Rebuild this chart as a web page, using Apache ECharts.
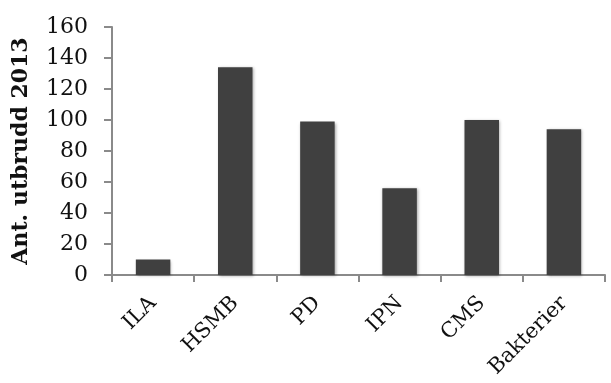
<!DOCTYPE html>
<html>
<head>
<meta charset="utf-8">
<script src="https://cdn.jsdelivr.net/npm/echarts@6/dist/echarts.min.js"></script>
<style>
  html, body { margin: 0; padding: 0; background: #fff; }
  #chart { width: 611px; height: 383px; }
</style>
</head>
<body>
<div id="chart"></div>
<script>
// Outbreak counts per disease, 2013
const categories = ['ILA', 'HSMB', 'PD', 'IPN', 'CMS', 'Bakterier'];
const outbreaks = [10, 134, 99, 56, 100, 94];
const yTicks = { min: 0, max: 160, interval: 20 };
const yTitle = 'Ant. utbrudd 2013';

const font = 'DejaVu Serif';
const chart = echarts.init(document.getElementById('chart'));
chart.setOption({
  animation: false,
  grid: { left: 112, top: 27, right: 6, bottom: 108, containLabel: false, outerBoundsMode: 'none' },
  xAxis: {
    type: 'category',
    data: categories,
    axisLine: { lineStyle: { color: '#8a8a8a', width: 2 } },
    axisTick: { show: true, length: 7, lineStyle: { color: '#8a8a8a', width: 2 } },
    axisLabel: {
      rotate: 45, margin: 25, color: '#111',
      fontFamily: font, fontSize: 21
    }
  },
  yAxis: {
    type: 'value',
    min: yTicks.min, max: yTicks.max, interval: yTicks.interval,
    name: yTitle,
    nameLocation: 'middle',
    nameGap: 80,
    nameTextStyle: { fontFamily: font, fontWeight: 'bold', fontSize: 22, color: '#111' },
    splitLine: { show: false },
    axisLine: { show: true, lineStyle: { color: '#8a8a8a', width: 2 } },
    axisTick: { show: true, length: 8, lineStyle: { color: '#8a8a8a', width: 2 } },
    axisLabel: { margin: 24, color: '#111', fontFamily: font, fontSize: 22 }
  },
  series: [{
    type: 'bar',
    data: outbreaks,
    barWidth: '42%',
    itemStyle: {
      color: '#404040',
      shadowColor: 'rgba(0,0,0,0.35)',
      shadowBlur: 3,
      shadowOffsetX: 1,
      shadowOffsetY: 1
    }
  }]
});
</script>
</body>
</html>
